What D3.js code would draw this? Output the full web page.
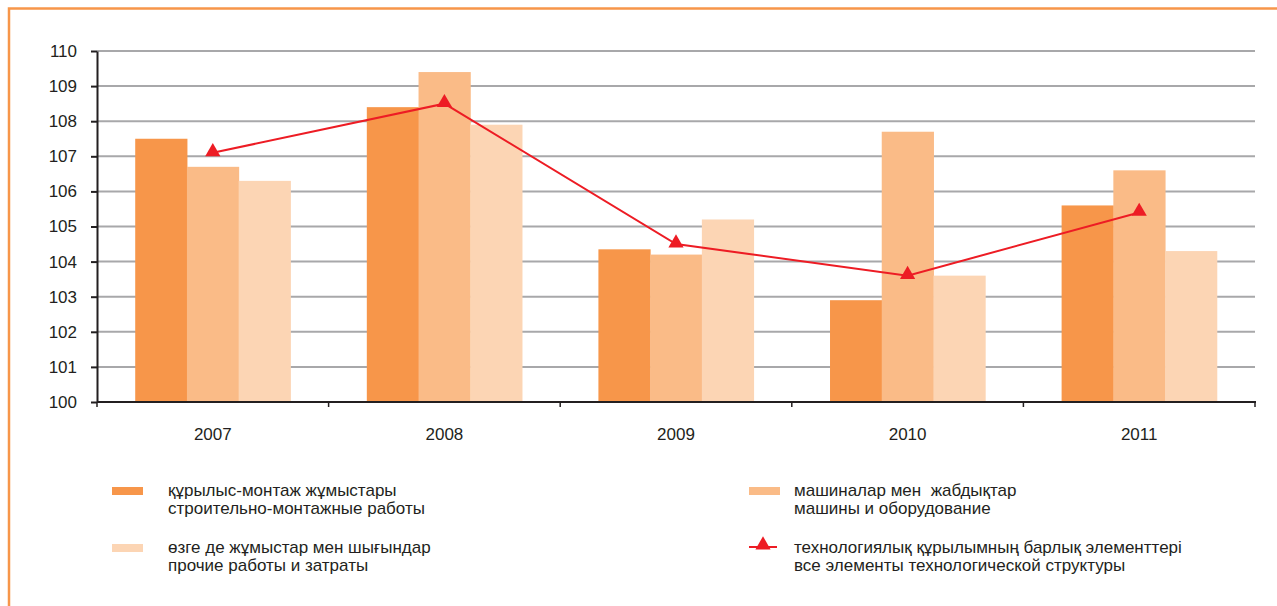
<!DOCTYPE html>
<html>
<head>
<meta charset="utf-8">
<script src="https://cdn.jsdelivr.net/npm/d3@7"></script>
<style>
  body { margin: 0; background: #fff; }
  svg { display: block; font-family: "Liberation Sans", Arial, sans-serif; }
  svg text { white-space: pre; }
</style>
</head>
<body>
<div id="chart"></div>
<script>
// data
const years = ["2007", "2008", "2009", "2010", "2011"];
const construction = [107.5, 108.4, 104.35, 102.9, 105.6];
const machines = [106.7, 109.4, 104.2, 107.7, 106.6];
const other = [106.3, 107.9, 105.2, 103.6, 104.3];
const total = [107.1, 108.5, 104.5, 103.6, 105.4];
const yTicks = [100, 101, 102, 103, 104, 105, 106, 107, 108, 109, 110];

const seriesNames = ["construction", "machines", "other"];
const seriesValues = [construction, machines, other];
const colors = ["#f7964a", "#fabb87", "#fcd5b4"];
const lineColor = "#ed1c24";

const width = 1277, height = 606;
const margin = {top: 51, right: 22, bottom: 204, left: 97};

const svg = d3.select("#chart").append("svg")
  .attr("width", width)
  .attr("height", height);

// orange frame
svg.append("path")
  .attr("d", `M9,${height} V8.5 H${width}`)
  .attr("fill", "none")
  .attr("stroke", "#f7964a")
  .attr("stroke-width", 2.5);

const x0 = d3.scaleBand()
  .domain(years)
  .range([margin.left, width - margin.right])
  .paddingInner(0.33)
  .paddingOuter(0.165);

const x1 = d3.scaleBand()
  .domain(seriesNames)
  .range([0, x0.bandwidth()]);

const y = d3.scaleLinear()
  .domain([100, 110])
  .range([height - margin.bottom, margin.top]);

// gridlines
svg.append("g")
  .selectAll("line")
  .data(yTicks.slice(1))
  .join("line")
  .attr("x1", margin.left)
  .attr("x2", width - margin.right)
  .attr("y1", d => y(d))
  .attr("y2", d => y(d))
  .attr("stroke", "#a8a8aa")
  .attr("stroke-width", 2);

// bars
const groups = svg.append("g")
  .selectAll("g")
  .data(years)
  .join("g")
  .attr("transform", d => `translate(${x0(d)},0)`);

groups.selectAll("rect")
  .data((d, i) => seriesNames.map((s, k) => ({s, k, v: seriesValues[k][i]})))
  .join("rect")
  .attr("x", d => x1(d.s))
  .attr("width", x1.bandwidth() + 0.5)
  .attr("y", d => y(d.v))
  .attr("height", d => y(100) - y(d.v) + 1)
  .attr("fill", d => colors[d.k]);

// y axis
const yAxis = svg.append("g")
  .attr("transform", `translate(${margin.left},0)`)
  .call(d3.axisLeft(y).tickValues(yTicks).tickSize(6).tickSizeOuter(0).tickPadding(14));
yAxis.select(".domain").attr("stroke", "#231f20").attr("stroke-width", 2);
yAxis.selectAll(".tick line").attr("stroke", "#231f20").attr("stroke-width", 2);
yAxis.selectAll(".tick text")
  .attr("fill", "#231f20")
  .style("font-size", "17px");

// x axis
const xAxisG = svg.append("g")
  .attr("transform", `translate(0,${y(100)})`);
xAxisG.append("line")
  .attr("x1", margin.left)
  .attr("x2", width - margin.right + 1)
  .attr("stroke", "#231f20")
  .attr("stroke-width", 2);
const step = x0.step();
xAxisG.selectAll(".xtick")
  .data(d3.range(years.length + 1))
  .join("line")
  .attr("class", "xtick")
  .attr("x1", i => margin.left + i * step)
  .attr("x2", i => margin.left + i * step)
  .attr("y1", 0)
  .attr("y2", 5)
  .attr("stroke", "#231f20")
  .attr("stroke-width", 1.5);
xAxisG.selectAll(".xlabel")
  .data(years)
  .join("text")
  .attr("class", "xlabel")
  .attr("x", d => x0(d) + x0.bandwidth() / 2)
  .attr("y", 38)
  .attr("text-anchor", "middle")
  .attr("fill", "#231f20")
  .style("font-size", "17px")
  .text(d => d);

// line series
const cx = (d, i) => x0(years[i]) + x0.bandwidth() / 2;
const line = d3.line()
  .x((d, i) => cx(d, i))
  .y(d => y(d));

svg.append("path")
  .datum(total)
  .attr("d", line)
  .attr("fill", "none")
  .attr("stroke", lineColor)
  .attr("stroke-width", 2);

const tri = d3.symbol().type(d3.symbolTriangle).size(100);
svg.append("g")
  .selectAll("path")
  .data(total)
  .join("path")
  .attr("d", tri)
  .attr("transform", (d, i) => `translate(${cx(d, i)},${y(d) - 1})`)
  .attr("fill", lineColor);

// legend
const legendItems = [
  {type: "bar", color: colors[0], x: 112, y: 487, tx: 56, lines: ["құрылыс-монтаж жұмыстары", "строительно-монтажные работы"]},
  {type: "bar", color: colors[1], x: 749, y: 487, tx: 45, lines: ["машиналар мен  жабдықтар", "машины и оборудование"]},
  {type: "bar", color: colors[2], x: 112, y: 544, tx: 56, lines: ["өзге де жұмыстар мен шығындар", "прочие работы и затраты"]},
  {type: "line", color: lineColor, x: 749, y: 544, tx: 45, lines: ["технологиялық құрылымның барлық элементтері", "все элементы технологической структуры"]}
];

const legend = svg.append("g");
legendItems.forEach(item => {
  const g = legend.append("g").attr("transform", `translate(${item.x},${item.y})`);
  if (item.type === "bar") {
    g.append("rect")
      .attr("width", 31)
      .attr("height", 8)
      .attr("fill", item.color);
  } else {
    g.append("line")
      .attr("x1", 0).attr("x2", 28)
      .attr("y1", 3).attr("y2", 3)
      .attr("stroke", item.color)
      .attr("stroke-width", 2);
    g.append("path")
      .attr("d", tri)
      .attr("transform", "translate(14,1)")
      .attr("fill", item.color);
  }
  g.append("text")
    .attr("y", 9)
    .attr("fill", "#231f20")
    .style("font-size", "17px")
    .selectAll("tspan")
    .data(item.lines)
    .join("tspan")
    .attr("x", item.tx)
    .attr("dy", (d, i) => i === 0 ? 0 : 18)
    .text(d => d);
});
</script>
</body>
</html>
